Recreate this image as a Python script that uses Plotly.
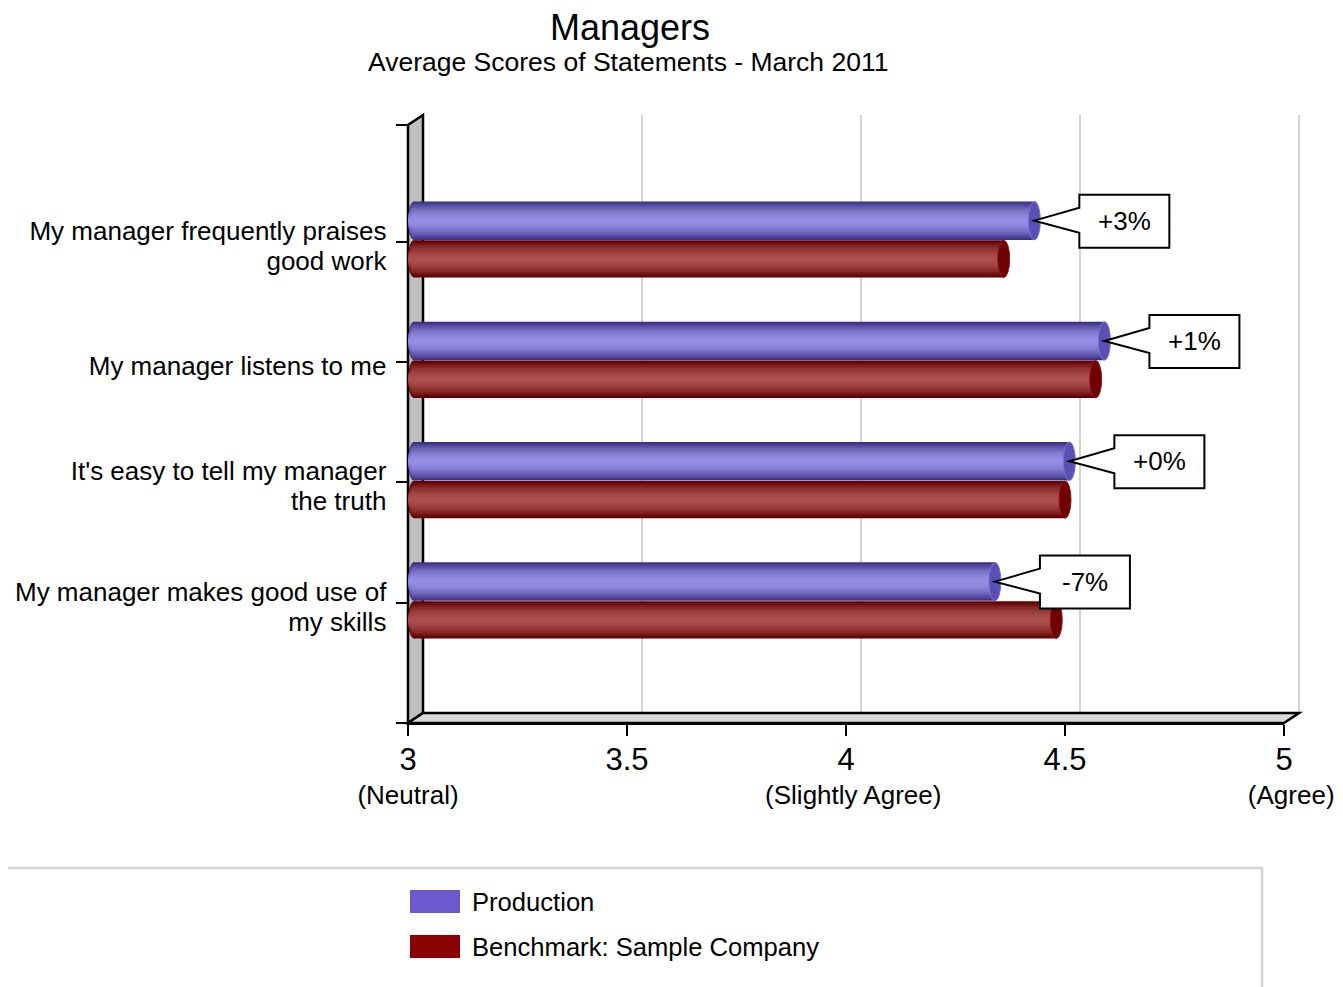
import plotly.graph_objects as go

statements = [
    'My manager frequently praises<br>good work',
    'My manager listens to me',
    "It's easy to tell my manager<br>the truth",
    'My manager makes good use of<br>my skills',
]
production = [4.43, 4.59, 4.51, 4.34]
benchmark = [4.36, 4.57, 4.50, 4.48]
change_labels = ['+3%', '+1%', '+0%', '-7%']
series_names = ['Production', 'Benchmark: Sample Company']
x_tickvals = [3, 3.5, 4, 4.5, 5]
x_ticknums = ['3', '3.5', '4', '4.5', '5']
x_tickdesc = ['(Neutral)', '', '(Slightly Agree)', '', '(Agree)']

FONT = 'Liberation Sans, Arial, sans-serif'
X_MIN, X_MAX = 3, 5
Y_TOP, Y_BOTTOM = 0.03, 5.0
PLOT_W, PLOT_H = 876, 598
PX_X = PLOT_W / (X_MAX - X_MIN)
PX_Y = PLOT_H / (Y_BOTTOM - Y_TOP)
DEPTH_X, DEPTH_Y = 15 / PLOT_W, 10 / PLOT_H  # 3d back plane offset, paper units
# the page body adds a small offset, pull the plot back by that much
SHIFT_X, SHIFT_Y = 8, 8

positions = list(range(1, len(statements) + 1))


def px_x(p):
    return p / PX_X


def px_y(p):
    return p / PX_Y


def mix(c0, c1, t):
    return 'rgb({},{},{})'.format(*[round(a + (b - a) * t) for a, b in zip(c0, c1)])


def add_cylinders(fig, values, center, thick, dark, light, cap_fill, cap_line):
    n = 10
    cap_hw = px_x(6)
    for k in range(n):
        r = 1 - k / n
        w = thick * r
        col = mix(light, dark, r ** 2)
        fig.add_trace(go.Bar(
            orientation='h',
            y=positions,
            x=[v - X_MIN - cap_hw for v in values],
            base=X_MIN + cap_hw,
            width=w,
            offset=center - w / 2,
            marker=dict(color=col, line=dict(width=0)),
            showlegend=False,
            hoverinfo='skip',
        ))
        for y in positions:
            fig.add_shape(
                type='circle', xref='x', yref='y', layer='below',
                x0=X_MIN, x1=X_MIN + 2 * cap_hw,
                y0=y + center - w / 2, y1=y + center + w / 2,
                fillcolor=col, line=dict(width=0),
            )
    for v, y in zip(values, positions):
        fig.add_shape(
            type='circle', xref='x', yref='y', layer='above',
            x0=v - cap_hw, x1=v + cap_hw,
            y0=y + center - thick / 2, y1=y + center + thick / 2,
            fillcolor=cap_fill, line=dict(color=cap_line, width=1),
        )


fig = go.Figure()

# 3d frame: back grid lines, left wall, floor
for v in x_tickvals[1:]:
    xp = (v - X_MIN) / (X_MAX - X_MIN) + DEPTH_X
    fig.add_shape(type='line', xref='paper', yref='paper', layer='below',
                  x0=xp, x1=xp, y0=DEPTH_Y, y1=1 + DEPTH_Y,
                  line=dict(color='#d3d3d3', width=2))
fig.add_shape(type='path', xref='paper', yref='paper', layer='below',
              path=f'M 0 0 L 0 1 L {DEPTH_X} {1 + DEPTH_Y} L {DEPTH_X} {DEPTH_Y} Z',
              fillcolor='#c0c0c0', line=dict(color='black', width=2.5))
fig.add_shape(type='path', xref='paper', yref='paper', layer='below',
              path=f'M 0 0 L 1 0 L {1 + DEPTH_X} {DEPTH_Y} L {DEPTH_X} {DEPTH_Y} Z',
              fillcolor='#d9d9d9', line=dict(color='black', width=2.5))
for yp in (0, 1):
    fig.add_shape(type='line', xref='paper', yref='paper',
                  x0=-12 / PLOT_W, x1=0, y0=yp, y1=yp,
                  line=dict(color='black', width=2))

add_cylinders(fig, production, -0.175, 0.32, (60, 50, 134), (150, 142, 228), '#5a4fb4', '#7a70cc')
add_cylinders(fig, benchmark, 0.143, 0.31, (96, 0, 0), (172, 78, 78), '#700000', '#8a1a1a')

# change callouts
for v, y, label in zip(production, positions, change_labels):
    yc = y - 0.175
    bx0, bx1 = v + px_x(45), v + px_x(135)
    by0, by1 = yc - px_y(26), yc + px_y(27)
    path = (f'M {v} {yc} L {bx0} {yc - px_y(13)} L {bx0} {by0} L {bx1} {by0} '
            f'L {bx1} {by1} L {bx0} {by1} L {bx0} {yc + px_y(12)} Z')
    fig.add_shape(type='path', xref='x', yref='y', path=path,
                  fillcolor='white', line=dict(color='black', width=2))
    fig.add_annotation(x=v + px_x(90), y=yc, xref='x', yref='y', text=label,
                       showarrow=False, xanchor='center', yanchor='middle',
                       font=dict(size=26, color='black'))

# legend drawn by hand to get the wide swatches
legend_colors = ['#6a5acd', '#8b0000']
for i, (name, col) in enumerate(zip(series_names, legend_colors)):
    top = 890 + i * 45
    fig.add_shape(type='rect', xref='paper', yref='paper',
                  x0=2 / PLOT_W, x1=52 / PLOT_W,
                  y0=(723 - top) / PLOT_H, y1=(723 - top - 23) / PLOT_H,
                  fillcolor=col, line=dict(width=0))
    fig.add_annotation(x=62 / PLOT_W, y=(723 - top - 12) / PLOT_H, xref='paper', yref='paper',
                       text=name, showarrow=False, xanchor='left', yanchor='middle',
                       font=dict(size=25.6, color='black'))
ly = (723 - 868) / PLOT_H
fig.add_shape(type='path', xref='paper', yref='paper',
              path=f'M {-420 / PLOT_W} {ly} L {854 / PLOT_W} {ly} L {854 / PLOT_W} {(723 - 1010) / PLOT_H}',
              line=dict(color='#d3d3d3', width=2.5))

# titles
fig.add_annotation(x=222 / PLOT_W, y=(723 - 27) / PLOT_H, xref='paper', yref='paper',
                   text='Managers', showarrow=False, xanchor='center', yanchor='middle',
                   font=dict(size=36, color='black'))
fig.add_annotation(x=220 / PLOT_W, y=(723 - 62) / PLOT_H, xref='paper', yref='paper',
                   text='Average Scores of Statements - March 2011', showarrow=False,
                   xanchor='center', yanchor='middle',
                   font=dict(size=26.5, color='black'))

# x tick labels: big number, smaller description line below (nudged like the original)
desc_pad = [0, 0, 2, 0, 2]
x_ticktext = [
    f"<span style='font-size:31px'>{n}</span>" + (f"<br>{'&nbsp;' * p}{d}" if d else '')
    for n, d, p in zip(x_ticknums, x_tickdesc, desc_pad)
]
# y labels: tighter line spacing via a smaller base font, text itself at 26px
y_ticktext = [
    '<br>'.join(f"<span style='font-size:26px'>{part}</span>" for part in s.split('<br>'))
    for s in statements
]

fig.update_layout(
    width=1343,
    height=987,
    margin=dict(l=408 - SHIFT_X, r=59 + SHIFT_X, t=125 - SHIFT_Y, b=264 + SHIFT_Y),
    paper_bgcolor='white',
    plot_bgcolor='rgba(0,0,0,0)',
    barmode='overlay',
    showlegend=False,
    font=dict(family=FONT, color='black'),
    xaxis=dict(
        range=[X_MIN, X_MAX],
        tickvals=x_tickvals,
        ticktext=x_ticktext,
        tickangle=0,
        ticks='outside', ticklen=11, tickwidth=2, tickcolor='black',
        showline=True, linecolor='black', linewidth=2,
        showgrid=False, zeroline=False,
        tickfont=dict(size=26),
        ticklabelstandoff=3,
        automargin=False,
    ),
    yaxis=dict(
        range=[Y_BOTTOM, Y_TOP],
        tickvals=positions,
        ticktext=y_ticktext,
        ticks='outside', ticklen=11, tickwidth=2, tickcolor='black',
        showline=False, showgrid=False, zeroline=False,
        tickfont=dict(size=23),
        ticklabelstandoff=5,
        ticklabelshift=-5,
        automargin=False,
    ),
)

fig.write_html('out.html')
